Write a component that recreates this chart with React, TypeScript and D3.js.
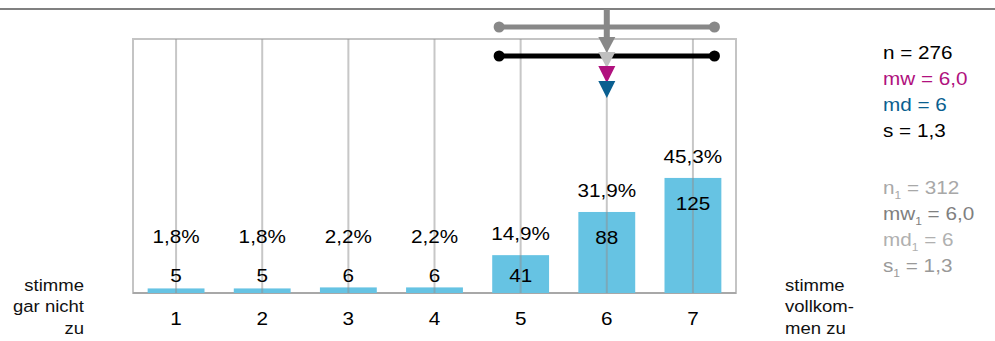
import React from "react";
import * as d3 from "d3";

const categories = ["1", "2", "3", "4", "5", "6", "7"];
const counts = [5, 5, 6, 6, 41, 88, 125];
const percents = [1.8, 1.8, 2.2, 2.2, 14.9, 31.9, 45.3];

// current group
const n = 276;
const mean = 6.0;
const median = 6;
const sd = 1.25;
// comparison group
const n1 = 312;
const mean1 = 6.0;
const median1 = 6;
const sd1 = 1.25;

const statMain = [
  { key: "n", sub: "", val: "276", color: "#000000" },
  { key: "mw", sub: "", val: "6,0", color: "#b0117e" },
  { key: "md", sub: "", val: "6", color: "#0a5f90" },
  { key: "s", sub: "", val: "1,3", color: "#000000" },
];
const statComp = [
  { key: "n", sub: "1", val: "312", color: "#a8a8a8" },
  { key: "mw", sub: "1", val: "6,0", color: "#808080" },
  { key: "md", sub: "1", val: "6", color: "#b0b0b0" },
  { key: "s", sub: "1", val: "1,3", color: "#999999" },
];
const leftLabel = ["stimme", "gar nicht", "zu"];
const rightLabel = ["stimme", "vollkom-", "men zu"];

const W = 995;
const H = 341;
const plot = { left: 133, right: 736, top: 39, bottom: 293 };
const SX = 1.09;

function T(props: {
  x: number;
  y: number;
  size: number;
  anchor?: string;
  fill?: string;
  children: React.ReactNode;
}) {
  const { x, y, size, anchor = "start", fill = "#000", children } = props;
  return (
    <g transform={`translate(${x},${y}) scale(${SX},1)`}>
      <text x={0} y={0} dy="0.35em" fontSize={size} textAnchor={anchor} fill={fill}>
        {children}
      </text>
    </g>
  );
}

export default function App() {
  const x = d3
    .scaleBand<string>()
    .domain(categories)
    .range([plot.left, plot.right])
    .paddingInner(0.34)
    .paddingOuter(0.17);
  const y = d3.scaleLinear().domain([0, 100]).range([plot.bottom, plot.top]);
  const bw = x.bandwidth();
  const cx = (c: string) => (x(c) as number) + bw / 2;
  const xv = d3.scaleLinear().domain([1, 7]).range([cx("1"), cx("7")]);

  const font = "'Liberation Sans', Arial, sans-serif";
  const tri = (px: number, top: number, h: number, w: number) =>
    `M${px - w / 2},${top} L${px + w / 2},${top} L${px},${top + h} Z`;

  const whisker = (m: number, s: number, yy: number, color: string) => (
    <g>
      <line x1={xv(m - s)} x2={xv(m + s)} y1={yy} y2={yy} stroke={color} strokeWidth={5} />
      <circle cx={xv(m - s)} cy={yy} r={5.5} fill={color} />
      <circle cx={xv(m + s)} cy={yy} r={5.5} fill={color} />
    </g>
  );

  return (
    <svg width={W} height={H} style={{ position: "absolute", left: 0, top: 0 }} fontFamily={font}>
      <rect width={W} height={H} fill="#ffffff" />
      <line x1={0} x2={W} y1={9} y2={9} stroke="#808080" strokeWidth={2} />

      <rect
        x={plot.left}
        y={plot.top}
        width={plot.right - plot.left}
        height={plot.bottom - plot.top}
        fill="none"
        stroke="#c4c4c4"
        strokeWidth={2}
      />
      <line x1={plot.left} x2={plot.right} y1={plot.bottom} y2={plot.bottom} stroke="#a8a8a8" strokeWidth={2} />

      {categories.map((c, i) => (
        <rect
          key={c}
          x={x(c)}
          y={y(percents[i])}
          width={bw}
          height={plot.bottom - y(percents[i])}
          fill="#66c3e3"
        />
      ))}
      {categories.map((c) => (
        <line
          key={"g" + c}
          x1={cx(c)}
          x2={cx(c)}
          y1={plot.top}
          y2={plot.bottom}
          stroke="#909090"
          strokeOpacity={0.5}
          strokeWidth={2}
        />
      ))}

      {categories.map((c, i) => {
        const top = y(percents[i]);
        const pctY = Math.min(top - 22, 236);
        const cntY = Math.min(top + 25, 275);
        return (
          <g key={"l" + c}>
            <T x={cx(c)} y={pctY} size={19} anchor="middle">
              {percents[i].toFixed(1).replace(".", ",")}%
            </T>
            <T x={cx(c)} y={cntY} size={19} anchor="middle">
              {counts[i]}
            </T>
          </g>
        );
      })}

      {categories.map((c) => (
        <T key={"a" + c} x={cx(c)} y={318} size={19} anchor="middle">
          {c}
        </T>
      ))}

      {leftLabel.map((t, i) => (
        <T key={"ll" + i} x={84} y={285 + i * 21.5} size={17} anchor="end" fill="#111">
          {t}
        </T>
      ))}
      {rightLabel.map((t, i) => (
        <T key={"rl" + i} x={785} y={285 + i * 21.5} size={17} anchor="start" fill="#111">
          {t}
        </T>
      ))}

      {whisker(mean1, sd1, 27, "#888888")}
      {whisker(mean, sd, 56, "#000000")}

      <line x1={xv(mean1)} x2={xv(mean1)} y1={9} y2={40} stroke="#888888" strokeWidth={6} />
      <path d={tri(xv(mean), 58, 8, 5)} fill="#b0117e" />
      <path d={tri(xv(mean1), 37, 16, 17)} fill="#888888" />
      <path d={tri(xv(median1), 52, 16, 17)} fill="#c0c0c0" />
      <path d={tri(xv(mean), 66, 17, 17)} fill="#b0117e" />
      <path d={tri(xv(median), 81, 17, 17)} fill="#0a5f90" />

      {statMain.map((s, i) => (
        <T key={"s" + i} x={883} y={52 + i * 26} size={19} fill={s.color}>
          {s.key + " = " + s.val}
        </T>
      ))}
      {statComp.map((s, i) => (
        <T key={"c" + i} x={883} y={187 + i * 26} size={19} fill={s.color}>
          {s.key}
          <tspan fontSize={11} dy={5}>{s.sub}</tspan>
          <tspan dy={-5}>{" = " + s.val}</tspan>
        </T>
      ))}
    </svg>
  );
}
